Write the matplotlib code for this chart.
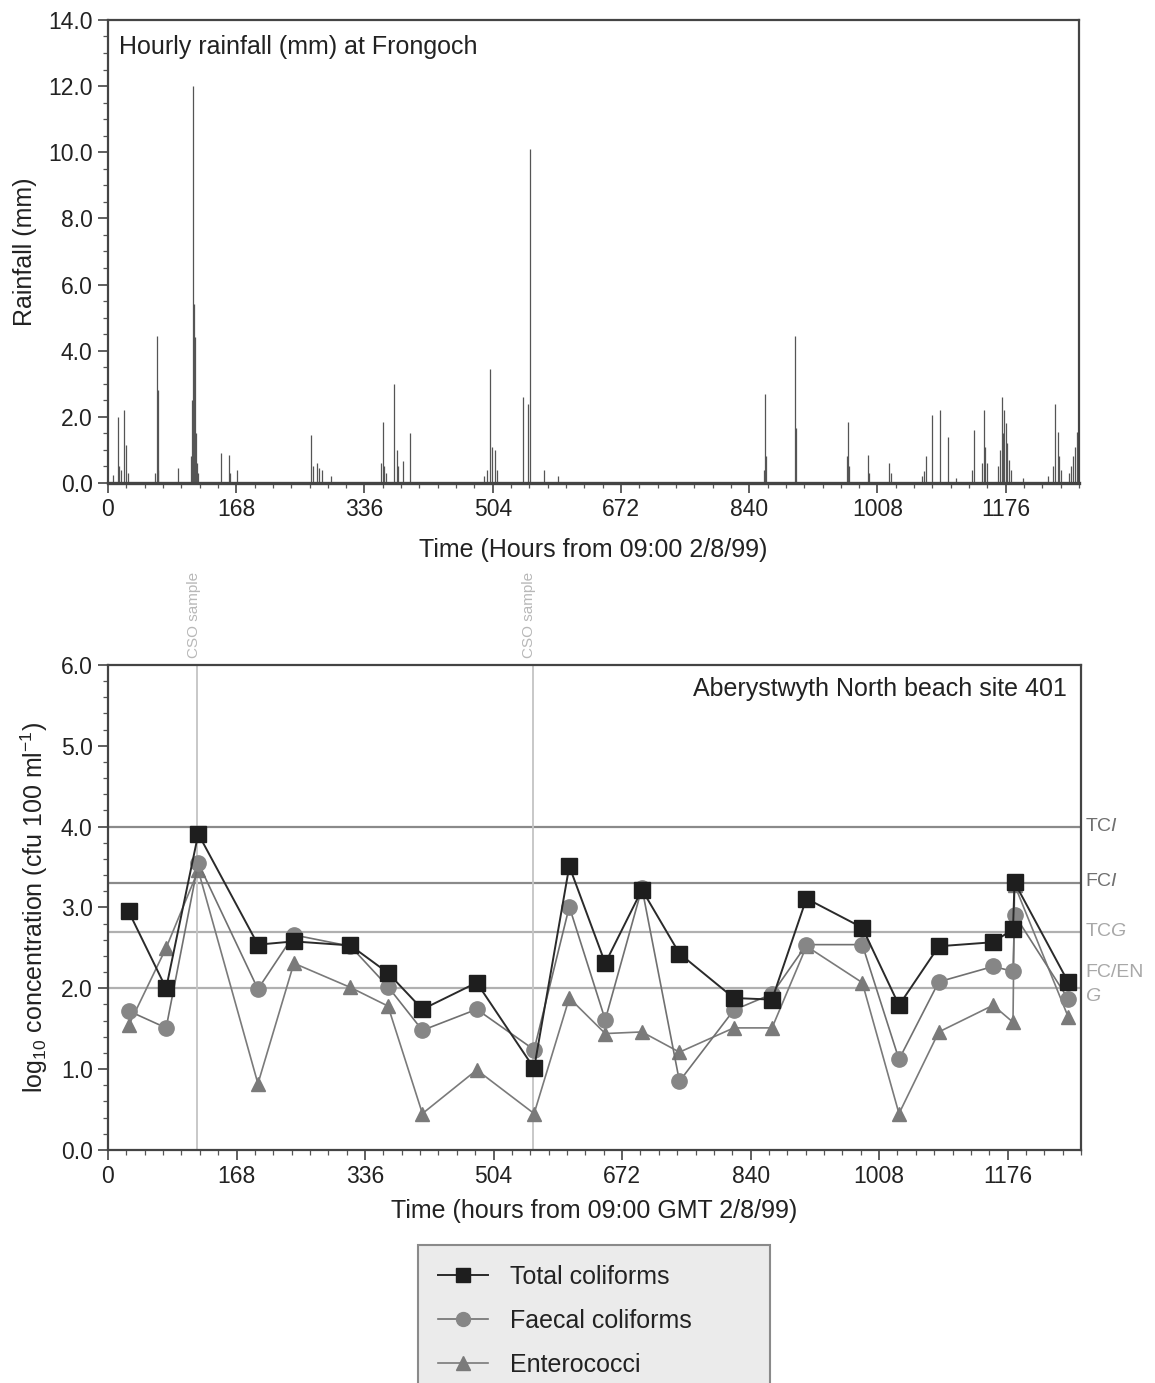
import matplotlib.pyplot as plt
import numpy as np
from matplotlib.ticker import MultipleLocator, FormatStrFormatter
from matplotlib.lines import Line2D

plt.rcParams['font.family'] = ['Liberation Sans', 'DejaVu Sans']
plt.rcParams['mathtext.fontset'] = 'custom'
plt.rcParams['mathtext.rm'] = 'Liberation Sans'
plt.rcParams['mathtext.it'] = 'Liberation Sans:italic'

# hourly rainfall at Frongoch (hours from 09:00 2/8/99, mm)
rain_hours = [7, 13, 15, 17, 21, 24, 26, 62, 64, 65, 66, 92, 109, 110, 112, 113,
              114, 115, 117, 118, 148, 158, 160, 169, 266, 269, 274, 276, 280, 292,
              358, 360, 362, 364, 375, 378, 380, 387, 396, 492, 497, 501, 503, 507,
              510, 544, 550, 553, 571, 590, 859, 861, 862, 900, 901, 968, 970, 971,
              995, 997, 1023, 1026, 1066, 1069, 1071, 1079, 1090, 1100, 1111, 1132,
              1135, 1145, 1148, 1149, 1151, 1166, 1168, 1171, 1172, 1174, 1176, 1178,
              1180, 1183, 1198, 1231, 1238, 1241, 1244, 1246, 1248, 1259, 1261, 1264,
              1267, 1270]
rain_mm = [0.25, 2.0, 0.5, 0.4, 2.2, 1.15, 0.3, 0.3, 4.45, 2.8, 0.4, 0.45, 0.8, 2.5, 12.0, 5.4,
           4.4, 1.5, 0.6, 0.3, 0.9, 0.85, 0.3, 0.4, 1.45, 0.5, 0.6, 0.45, 0.4, 0.2,
           0.6, 1.85, 0.5, 0.3, 3.0, 1.0, 0.5, 0.65, 1.5, 0.2, 0.4, 3.45, 1.1, 1.0,
           0.4, 2.6, 2.4, 10.1, 0.4, 0.2, 0.4, 2.7, 0.8, 4.45, 1.65, 0.8, 1.85, 0.5,
           0.85, 0.3, 0.6, 0.3, 0.2, 0.35, 0.8, 2.05, 2.2, 1.4, 0.15, 0.4,
           1.6, 0.6, 2.2, 1.1, 0.6, 0.5, 1.0, 2.6, 1.5, 2.2, 1.8, 1.2,
           0.7, 0.4, 0.15, 0.2, 0.5, 2.4, 1.55, 0.8, 0.4, 0.3, 0.5, 0.8,
           1.1, 1.55]

# bacterial samples, Aberystwyth North beach site 401 (log10 cfu 100 ml-1)
sample_hours = [27, 76, 118, 196, 243, 317, 366, 411, 482, 557, 603, 650, 698, 747,
                818, 868, 913, 986, 1034, 1086, 1157, 1183, 1185, 1255]
total_coliforms = [2.95, 2.00, 3.91, 2.54, 2.58, 2.53, 2.19, 1.74, 2.07, 1.01, 3.51, 2.31,
                   3.22, 2.43, 1.88, 1.86, 3.11, 2.75, 1.79, 2.52, 2.57, 2.73, 3.31, 2.08]
faecal_coliforms = [1.72, 1.51, 3.55, 1.99, 2.66, 2.52, 2.02, 1.48, 1.74, 1.24, 3.01, 1.61,
                    3.24, 0.85, 1.73, 1.93, 2.54, 2.54, 1.12, 2.08, 2.27, 2.21, 2.91, 1.87]
enterococci = [1.54, 2.50, 3.46, 0.82, 2.31, 2.01, 1.78, 0.45, 0.99, 0.45, 1.88, 1.44,
               1.46, 1.21, 1.51, 1.51, 2.52, 2.07, 0.45, 1.46, 1.79, 1.58, 3.28, 1.65]

cso_hours = [117, 555]
std_values = [4.0, 3.3, 2.7, 2.0]
std_colors = ['#8a8a8a', '#8a8a8a', '#b0b0b0', '#b0b0b0']
std_labels = [r'TC$\mathit{I}$', r'FC$\mathit{I}$', r'TC$\mathit{G}$', 'FC/EN', r'$\mathit{G}$']
std_label_y = [4.0, 3.32, 2.7, 2.2, 1.9]
std_label_colors = ['#707070', '#707070', '#a8a8a8', '#a8a8a8', '#a8a8a8']

xmax = 1272
hour_ticks = np.arange(0, 1177, 168)

fig = plt.figure(figsize=(11.55, 13.83), dpi=100)

def style_axes(ax):
    for s in ax.spines.values():
        s.set_color('#444444')
        s.set_linewidth(1.6)
    ax.set_xlim(0, xmax)
    ax.set_xticks(hour_ticks)
    ax.xaxis.set_minor_locator(MultipleLocator(24))
    ax.tick_params(which='major', direction='out', length=7, width=1.2, colors='#444444',
                   labelsize=16.5, labelcolor='#222222', pad=4)
    ax.tick_params(which='minor', direction='out', length=3.5, width=0.9, colors='#555555')

# --- rainfall panel
ax1 = fig.add_axes([0.0935, 0.6508, 0.8407, 0.3348])
ax1.vlines(rain_hours, 0, rain_mm, color='#555555', lw=0.9)
ax1.set_ylim(0, 14)
ax1.yaxis.set_major_locator(MultipleLocator(2))
ax1.yaxis.set_minor_locator(MultipleLocator(0.5))
ax1.yaxis.set_major_formatter(FormatStrFormatter('%.1f'))
style_axes(ax1)
ax1.spines['bottom'].set_linewidth(2.4)
ax1.text(0.011, 0.967, 'Hourly rainfall (mm) at Frongoch', transform=ax1.transAxes,
         ha='left', va='top', fontsize=18, color='#222222')
ax1.set_xlabel('Time (Hours from 09:00 2/8/99)', fontsize=18, color='#222222', labelpad=12)
ax1.set_ylabel('Rainfall (mm)', fontsize=18, color='#222222', labelpad=8)

# --- bacteria panel
ax2 = fig.add_axes([0.0935, 0.1685, 0.8425, 0.3507])
for v, c in zip(std_values, std_colors):
    ax2.axhline(v, color=c, lw=1.6, zorder=1)
for h in cso_hours:
    ax2.axvline(h, color='#c4c4c4', lw=1.3, zorder=1)
    ax2.text(h - 5, 6.08, 'CSO sample', rotation=90, ha='center', va='bottom',
             fontsize=11, color='#b8b8b8', clip_on=False)
for lab, y, c in zip(std_labels, std_label_y, std_label_colors):
    ax2.text(1.004, y / 6.0, lab, transform=ax2.transAxes, ha='left', va='center',
             fontsize=14, color=c)

ax2.plot(sample_hours, enterococci, color='#7a7a7a', lw=1.2, marker='^', ms=10,
         mfc='#7a7a7a', mec='#7a7a7a', zorder=3, label='Enterococci')
ax2.plot(sample_hours, faecal_coliforms, color='#707070', lw=1.2, marker='o', ms=11,
         mfc='#868686', mec='#868686', zorder=4, label='Faecal coliforms')
ax2.plot(sample_hours, total_coliforms, color='#2a2a2a', lw=1.4, marker='s', ms=11,
         mfc='#1e1e1e', mec='#1e1e1e', zorder=5, label='Total coliforms')

ax2.set_ylim(0, 6)
ax2.yaxis.set_major_locator(MultipleLocator(1))
ax2.yaxis.set_minor_locator(MultipleLocator(0.2))
ax2.yaxis.set_major_formatter(FormatStrFormatter('%.1f'))
style_axes(ax2)
ax2.text(0.985, 0.975, 'Aberystwyth North beach site 401', transform=ax2.transAxes,
         ha='right', va='top', fontsize=18, color='#222222')
ax2.set_xlabel('Time (hours from 09:00 GMT 2/8/99)', fontsize=18, color='#222222', labelpad=8)
ax2.set_ylabel(r'log$_{10}$ concentration (cfu 100 ml$^{-1}$)', fontsize=18,
               color='#222222', labelpad=8)

handles = [
    Line2D([], [], color='#2a2a2a', lw=1.4, marker='s', ms=10, mfc='#1e1e1e', mec='#1e1e1e'),
    Line2D([], [], color='#707070', lw=1.2, marker='o', ms=10, mfc='#868686', mec='#868686'),
    Line2D([], [], color='#7a7a7a', lw=1.2, marker='^', ms=10, mfc='#7a7a7a', mec='#7a7a7a'),
]
leg = fig.legend(handles, ['Total coliforms', 'Faecal coliforms', 'Enterococci'],
                 loc='upper left',
                 bbox_to_anchor=(418 / 1155, 0, 352 / 1155, 1 - 1245 / 1383),
                 mode='expand', borderaxespad=0,
                 fontsize=18, frameon=True, fancybox=False, handlelength=2.0,
                 handletextpad=0.9, labelspacing=0.8, borderpad=0.8)
leg.get_frame().set_facecolor('#ebebeb')
leg.get_frame().set_edgecolor('#8a8a8a')
leg.get_frame().set_linewidth(1.5)
leg.get_frame().set_alpha(1)
for t in leg.get_texts():
    t.set_color('#222222')

fig.savefig('out.png', dpi=100)
